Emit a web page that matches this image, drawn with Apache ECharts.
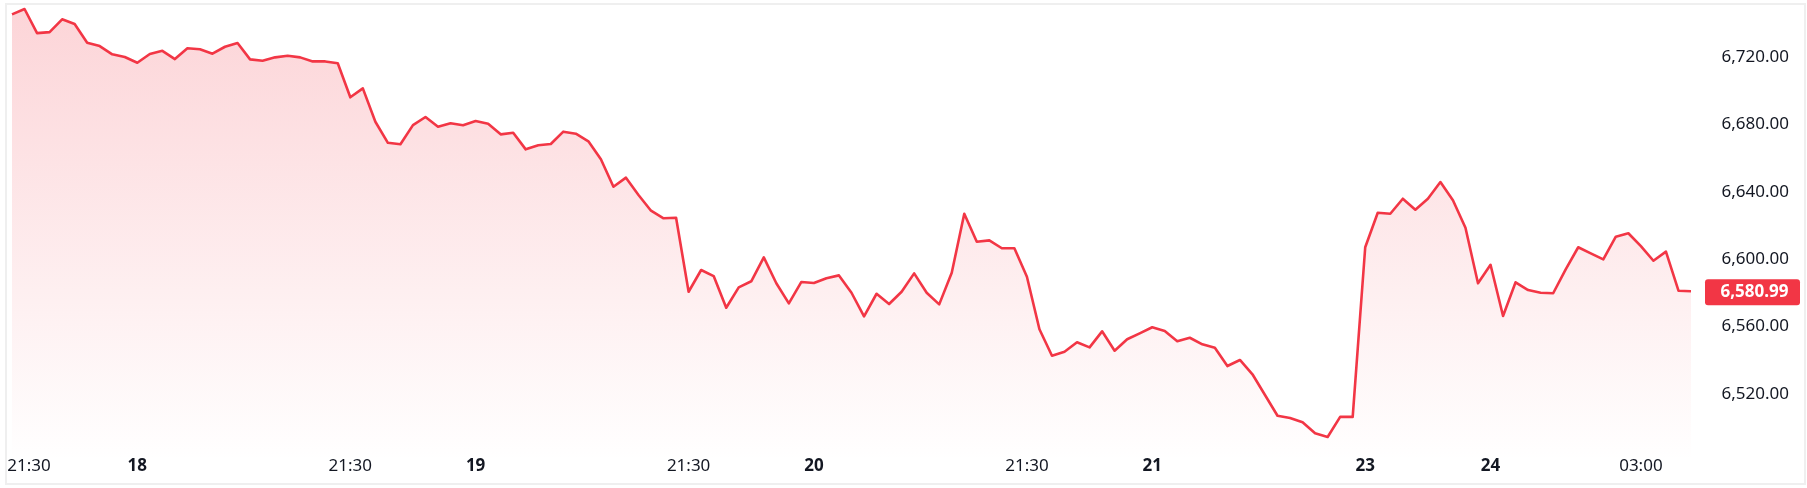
<!DOCTYPE html>
<html>
<head>
<meta charset="utf-8">
<script src="https://cdn.jsdelivr.net/npm/echarts@6/dist/echarts.min.js"></script>
<style>
html,body{margin:0;padding:0;background:#fff;}
#chart{width:1807px;height:488px;}
</style>
</head>
<body>
<div id="chart"></div>
<script>
// ---- data ----
const values = [
6745.3, 6748.5, 6734.2, 6734.8, 6742.4, 6739.6, 6728.5, 6726.5, 6721.6, 6720.0,
6716.6, 6721.8, 6723.7, 6718.8, 6725.2, 6724.6, 6722.0, 6726.1, 6728.3, 6718.6,
6717.8, 6719.8, 6720.8, 6719.8, 6717.4, 6717.4, 6716.3, 6696.1, 6701.4, 6681.6,
6669.1, 6668.2, 6679.6, 6684.4, 6678.6, 6680.7, 6679.5, 6682.0, 6680.4, 6674.1,
6675.1, 6665.2, 6667.6, 6668.4, 6675.7, 6674.5, 6670.0, 6659.3, 6643.0, 6648.4,
6638.1, 6628.8, 6624.3, 6624.6, 6580.7, 6593.6, 6590.0, 6571.2, 6583.3, 6586.9,
6601.1, 6585.7, 6573.8, 6586.5, 6585.9, 6588.7, 6590.4, 6580.1, 6566.1, 6579.5,
6573.4, 6580.7, 6591.6, 6580.1, 6573.2, 6592.0, 6627.0, 6610.4, 6611.2, 6606.5,
6606.5, 6589.6, 6558.4, 6542.7, 6545.1, 6550.7, 6547.7, 6557.2, 6545.7, 6552.5,
6556.0, 6559.6, 6557.4, 6551.3, 6553.4, 6549.5, 6547.5, 6536.6, 6540.2, 6531.7,
6519.4, 6507.1, 6505.8, 6503.2, 6496.7, 6494.5, 6506.4, 6506.4, 6607.1, 6627.6,
6627.0, 6635.9, 6629.4, 6635.9, 6645.8, 6635.0, 6618.7, 6585.7, 6596.7, 6566.3,
6586.3, 6581.7, 6580.1, 6579.8, 6594.0, 6607.1, 6603.5, 6599.9, 6613.4, 6615.4,
6607.8, 6599.1, 6604.5, 6581.3, 6580.99
];
const tickIndex = [0, 10, 27, 37, 54, 64, 81, 91, 108, 118, 130];
const tickText  = ['21:30', '18', '21:30', '19', '21:30', '20', '21:30', '21', '23', '24', '03:00'];
const tickIsDay = [false, true, false, true, false, true, false, true, true, true, false];
const lastPrice = 6580.99;

const categories = values.map((v, i) => String(i));

function fmt(v) {
  const s = v.toFixed(2);
  const parts = s.split('.');
  parts[0] = parts[0].replace(/\B(?=(\d{3})+(?!\d))/g, ',');
  return parts.join('.');
}

const RED = '#F23645';
const TXT = '#131722';
const FONT = '"Noto Sans", "Open Sans", sans-serif';

const chart = echarts.init(document.getElementById('chart'), null, {renderer: 'canvas'});
chart.setOption({
  animation: false,
  backgroundColor: '#ffffff',
  grid: { left: 12, right: 116, top: 4.8, bottom: 26.6, containLabel: false },
  graphic: [{
    type: 'rect', z: -10, silent: true,
    shape: { x: 6, y: 4, width: 1799, height: 480 },
    style: { fill: 'none', stroke: '#efefef', lineWidth: 2 }
  }],
  xAxis: {
    type: 'category',
    data: categories,
    boundaryGap: false,
    axisLine: { show: false },
    axisTick: { show: false },
    splitLine: { show: false },
    axisLabel: {
      interval: function (idx) { return tickIndex.indexOf(idx) >= 0; },
      hideOverlap: false,
      margin: -4,
      formatter: function (val, idx) {
        const k = tickIndex.indexOf(idx);
        if (k < 0) return '';
        if (k === 0) return '{first|' + tickText[k] + '}';
        return tickIsDay[k] ? '{d|' + tickText[k] + '}' : '{t|' + tickText[k] + '}';
      },
      rich: {
        first: { fontFamily: FONT, fontSize: 17, color: TXT, padding: [0, 0, 0, 34] },
        t: { fontFamily: FONT, fontSize: 17, color: TXT },
        d: { fontFamily: FONT, fontSize: 17, color: TXT, fontWeight: 'bold' }
      }
    }
  },
  yAxis: {
    type: 'value',
    position: 'right',
    min: 6480,
    max: 6751,
    interval: 40,
    scale: true,
    axisLine: { show: false },
    axisTick: { show: false },
    splitLine: { show: false },
    axisLabel: {
      showMinLabel: false,
      showMaxLabel: false,
      align: 'right',
      margin: 98,
      fontFamily: FONT,
      fontSize: 17,
      color: TXT,
      formatter: function (v) { return fmt(v); }
    }
  },
  series: [{
    type: 'line',
    data: values,
    showSymbol: false,
    symbol: 'none',
    lineStyle: { color: RED, width: 2.6, join: 'round' },
    itemStyle: { color: RED },
    areaStyle: {
      color: new echarts.graphic.LinearGradient(0, 0, 0, 1, [
        { offset: 0, color: 'rgba(242,54,69,0.30)' },
        { offset: 1, color: 'rgba(242,54,69,0.0)' }
      ])
    },
    markPoint: {
      silent: true,
      data: [{
        coord: [values.length - 1, lastPrice],
        value: lastPrice,
        symbol: 'path://M3,0 H92 Q95,0 95,3 V23 Q95,26 92,26 H3 Q0,26 0,23 V3 Q0,0 3,0 Z',
        symbolKeepAspect: false,
        symbolSize: [95, 26],
        symbolOffset: [61.5, 1],
        itemStyle: { color: RED },
        label: {
          show: true,
          position: 'inside',
          offset: [2, 0],
          color: '#ffffff',
          fontFamily: FONT,
          fontSize: 17,
          fontWeight: 'bold',
          formatter: function (p) { return fmt(p.value); }
        }
      }]
    }
  }]
});
</script>
</body>
</html>
